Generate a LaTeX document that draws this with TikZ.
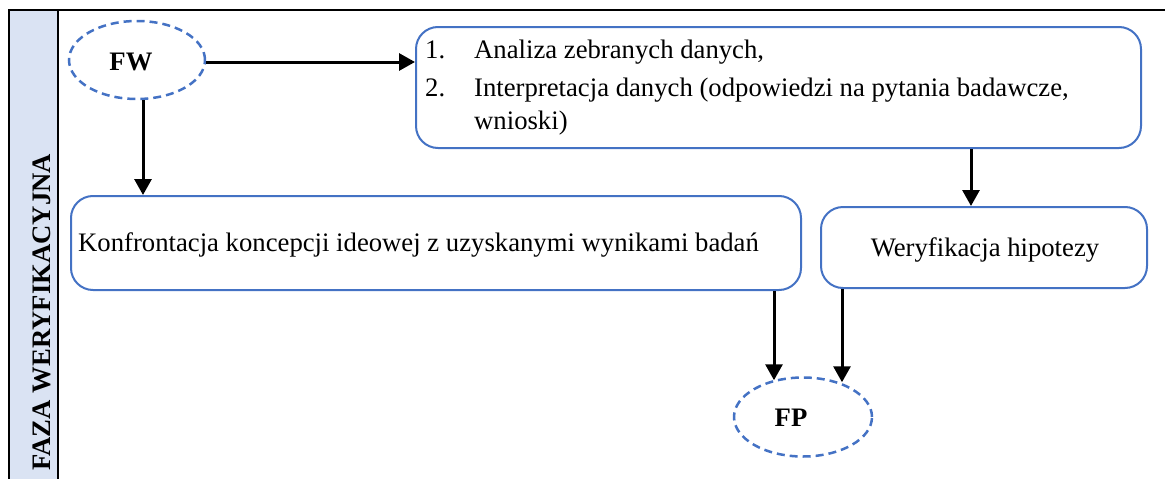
\documentclass[tikz,border=0pt]{standalone}
\usepackage{fontspec}
\setmainfont{Liberation Serif}
\usetikzlibrary{shapes.geometric,arrows.meta}
\definecolor{boxblue}{HTML}{4472C4}
\definecolor{stripfill}{HTML}{DAE3F3}
\tikzset{
  txt/.style={inner sep=0pt, font=\fontsize{26.7}{31}\selectfont},
  boldtxt/.style={txt, font=\fontsize{26.7}{31}\selectfont\bfseries},
  boxtxt/.style={txt, anchor=base west},
  stepbox/.style={draw=boxblue, line width=2pt, rounded corners=22pt, inner sep=0pt},
  phase/.style={ellipse, draw=boxblue, line width=2.5pt, dash pattern=on 8pt off 5pt, inner sep=0pt},
  arr/.style={line width=3pt, -{Triangle[length=16pt,width=17pt]}},
  frame/.style={line width=2.5pt}
}
\begin{document}
\begin{tikzpicture}[x=1pt,y=-1pt]
\useasboundingbox (0,0) rectangle (1165,479);
% side strip and frame
\fill[stripfill] (9,10) rectangle (58,479);
\draw[frame] (1165,10) -- (9,10) -- (9,479);
\draw[frame] (58,10) -- (58,479);
\node[boldtxt, rotate=90, anchor=base west] (phaselbl) at (50,471) {FAZA WERYFIKACYJNA};

% phases
\node[phase, minimum width=136pt, minimum height=78pt] (fw) at (137,60) {};
\node[boldtxt] (fwlbl) at (131,62) {FW};
\node[phase, minimum width=138pt, minimum height=79pt] (fp) at (803,417) {};
\node[boldtxt] (fplbl) at (791,418) {FP};

% steps
\node[stepbox, minimum width=725pt, minimum height=121pt] (b1) at (778.5,87.5) {};
\node[boxtxt] (n1) at (425,58) {1.};
\node[boxtxt] (t1) at (474,58) {Analiza zebranych danych,};
\node[boxtxt] (n2) at (425,96) {2.};
\node[boxtxt] (t2) at (474,96) {Interpretacja danych (odpowiedzi na pytania badawcze,};
\node[boxtxt] (t3) at (474,129) {wnioski)};

\node[stepbox, minimum width=730pt, minimum height=94pt] (b2) at (436,243) {};
\node[boxtxt] (t4) at (78,251) {Konfrontacja koncepcji ideowej z uzyskanymi wynikami badań};

\node[stepbox, minimum width=326pt, minimum height=81pt] (b3) at (984,247.5) {};
\node[boxtxt, anchor=base] (t5) at (985,256) {Weryfikacja hipotezy};

% connectors
\coordinate (xa) at (143,0);
\coordinate (xb) at (971,0);
\coordinate (xc) at (774,0);
\coordinate (xd) at (842,0);
\draw[arr] ([yshift=-2pt]fw.east) -- ([yshift=-2pt]fw.east -| b1.west);
\draw[arr] (xa |- fw.south) -- (xa |- b2.north);
\draw[arr] (xb |- b1.south) -- (xb |- b3.north);
\draw[arr] (xc |- b2.south) -- ([yshift=-4pt]xc |- fp.north);
\draw[arr] (xd |- b3.south) -- ([yshift=-6pt]xd |- fp.north);
\end{tikzpicture}
\end{document}
